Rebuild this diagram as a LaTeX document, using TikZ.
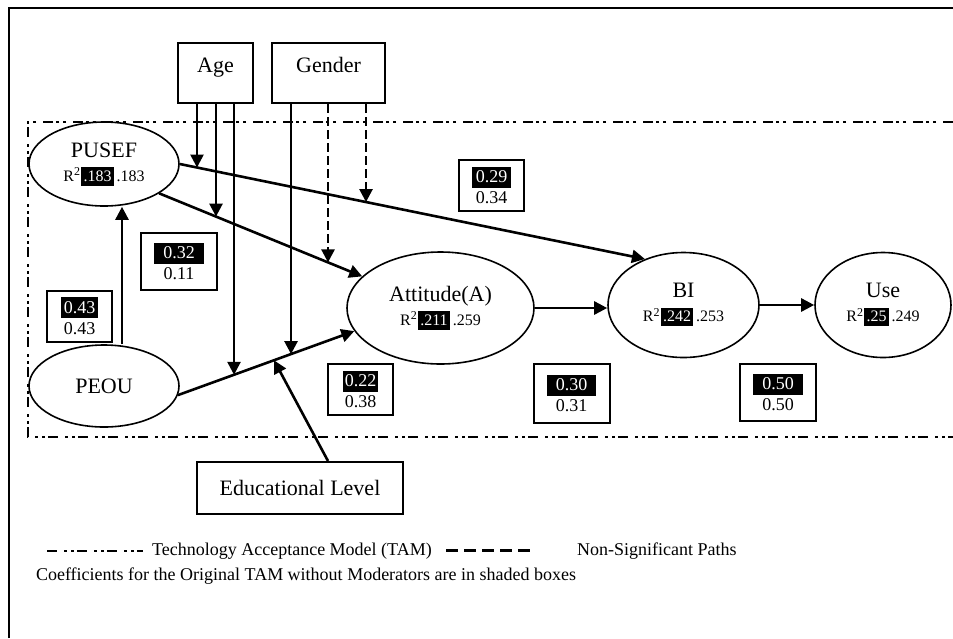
\documentclass[tikz,border=0pt]{standalone}
\usepackage{fontspec}
\setmainfont{Liberation Serif}
\usetikzlibrary{arrows.meta,shapes.geometric}

% value printed white on a black bar
\newcommand{\darkval}[2][1.5pt]{{\setlength{\fboxsep}{0pt}%
  \colorbox{black}{\rule[-0.28em]{0pt}{1.17em}\hspace{#1}\textcolor{white}{#2}\hspace{#1}}}}
% R^2 line under a construct name
\newcommand{\rsq}[2]{{\fontsize{8}{9}\selectfont R\textsuperscript{2}\darkval[1.2pt]{#1}\,#2}}

\begin{document}
\begin{tikzpicture}[
    x=0.5pt, y=-0.5pt,
    latent/.style={ellipse, draw, line width=0.8pt, align=center, inner sep=0pt,
      font=\fontsize{11}{12}\selectfont},
    modbox/.style={draw, line width=1pt, minimum height=30pt,
      font=\fontsize{11}{13}\selectfont},
    modtop/.style={modbox, text height=8pt, text depth=9pt},
    coef/.style={draw, line width=1pt, align=center, inner sep=0pt,
      minimum width=32.5pt, minimum height=25.5pt, font=\fontsize{9}{10.5}\selectfont},
    coefwide/.style={coef, minimum width=38pt, minimum height=28.5pt},
    link/.style={-{Triangle[length=6.5pt,width=6.5pt]}, line width=1.3pt},
    nonsig/.style={link, dash pattern=on 4.5pt off 2pt},
    tam/.style={line width=1.4pt,
      dash pattern=on 5pt off 3.5pt on 1.5pt off 2pt on 1.5pt off 1.5pt},
    lbl/.style={font=\fontsize{9}{11}\selectfont, anchor=west},
  ]
\useasboundingbox (0,0) rectangle (953,638);

% page frame and the TAM region
\draw[line width=1pt] (9,638) -- (9,8) -- (953,8);
\draw[tam] (953,122) -- (28,122) -- (28,437) -- (953,437);

% constructs
\node[latent, minimum width=75pt, minimum height=42pt] (pusef) at (104,164)
  {PUSEF\\\rsq{.183}{.183}};
\node[latent, minimum width=75pt, minimum height=41pt] (peou) at (104,386) {PEOU};
\node[latent, minimum width=93.5pt, minimum height=56pt] (attitude) at (440.5,308)
  {Attitude(A)\\\rsq{.211}{.259}};
\node[latent, minimum width=75.5pt, minimum height=52.5pt] (bi) at (683.5,305)
  {BI\\\rsq{.242}{.253}};
\node[latent, minimum width=68pt, minimum height=52.5pt] (use) at (883,305)
  {Use\\\rsq{.25}{.249}};

% moderators
\node[modtop, minimum width=37.5pt] (age) at (215.5,73) {Age};
\node[modtop, minimum width=56.5pt] (gender) at (328.5,73) {Gender};
\node[modbox, minimum width=103pt, minimum height=26pt] (edu) at (300,488)
  {Educational Level};

% path coefficients: moderated model below the shaded original
\node[coef] (c29) at (491.5,185.5) {\darkval[1.9pt]{0.29}\\0.34};
\node[coefwide] (c32) at (179,261.5) {\darkval[4.4pt]{0.32}\\0.11};
\node[coef] (c43) at (79.5,316) {\darkval[1.6pt]{0.43}\\0.43};
\node[coef] (c22) at (360.5,389.5) {\darkval[1.1pt]{0.22}\\0.38};
\node[coefwide, minimum height=29.5pt] (c30) at (571.5,393.5) {\darkval[4.4pt]{0.30}\\0.31};
\node[coefwide] (c50) at (778,392.5) {\darkval[4.4pt]{0.50}\\0.50};

% structural paths
\draw[link] (pusef.east) -- (bi.130);
\draw[link] (pusef.332) -- (attitude.158);
\draw[link] (peou.353) -- (attitude.195);
\draw[link] ([xshift=9pt]peou.north) -- ([xshift=9pt]pusef.south);
\draw[link] (attitude.east) -- (attitude.east -| bi.west);
\draw[link] (bi.east) -- (use.west);

% where the moderator arrows meet the paths
\coordinate (ageBI) at (intersection of pusef.east--bi.130 and 197,0--197,1);
\coordinate (ageAtt) at (intersection of pusef.332--attitude.158 and 216,0--216,1);
\coordinate (agePEOU) at (intersection of peou.353--attitude.195 and 234,0--234,1);
\coordinate (genPEOU) at (intersection of peou.353--attitude.195 and 291,0--291,1);
\coordinate (genAtt) at (intersection of pusef.332--attitude.158 and 328,0--328,1);
\coordinate (genBI) at (intersection of pusef.east--bi.130 and 366,0--366,1);
\coordinate (eduPEOU) at (intersection of peou.353--attitude.195 and 274,0--274,1);

\foreach \m in {ageBI,ageAtt,agePEOU}
  \draw[link] (age.south -| \m) -- (\m);
\draw[link] (gender.south -| genPEOU) -- (genPEOU);
\foreach \m in {genAtt,genBI}
  \draw[nonsig] (gender.south -| \m) -- (\m);
\draw[link] ([xshift=14pt]edu.north) -- (eduPEOU);

% legend
\draw[tam, line width=1pt] (47,551) -- (143,551);
\node[lbl] (tamkey) at (145,551) {Technology Acceptance Model (TAM)};
\draw[line width=1.5pt, dash pattern=on 6pt off 3pt] (446,550) -- (532,550);
\node[lbl] (nskey) at (570,551) {Non-Significant Paths};
\node[lbl] (shadekey) at (29,576)
  {Coefficients for the Original TAM without Moderators are in shaded boxes};

\end{tikzpicture}
\end{document}
